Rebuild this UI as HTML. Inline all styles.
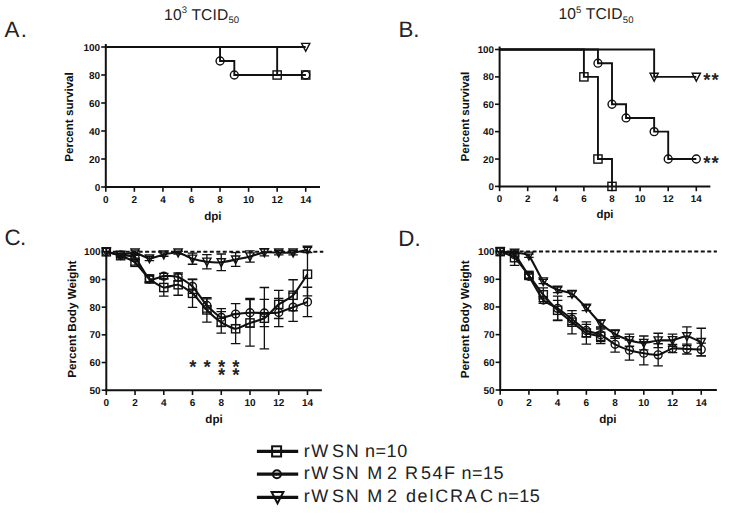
<!DOCTYPE html>
<html lang="en">
<head>
<meta charset="utf-8">
<title>Figure</title>
<style>
html,body{margin:0;padding:0;background:#fff;}
svg{display:block;}
text{font-family:"Liberation Sans", sans-serif;text-rendering:geometricPrecision;}
</style>
</head>
<body>
<svg width="729" height="514" viewBox="0 0 729 514">
<rect width="729" height="514" fill="#fff"/>
<text x="4.5" y="37" font-size="22.3" letter-spacing="1.3" fill="#222">A.</text>
<text x="398.4" y="36.7" font-size="22.3" letter-spacing="0" fill="#222">B.</text>
<text x="4.4" y="245.4" font-size="22.3" letter-spacing="-0.5" fill="#222">C.</text>
<text x="398.3" y="245.5" font-size="22.3" letter-spacing="0" fill="#222">D.</text>
<text x="201.7" y="19.7" font-size="15.6" letter-spacing="0.15" text-anchor="middle" fill="#222">10<tspan font-size="9.5" dy="-6.5">3</tspan><tspan dy="6.5"> TCID</tspan><tspan font-size="9.5" dy="3.2">50</tspan></text>
<text x="596.0" y="19.3" font-size="15.6" letter-spacing="0.15" text-anchor="middle" fill="#222">10<tspan font-size="9.5" dy="-6.5">5</tspan><tspan dy="6.5"> TCID</tspan><tspan font-size="9.5" dy="3.2">50</tspan></text>
<path d="M105.80 44.00V188.00" stroke="#111" stroke-width="2.0" fill="none"/>
<path d="M104.80 187.00H320.00" stroke="#111" stroke-width="2.0" fill="none"/>
<path d="M101.20 187.00H105.80" stroke="#111" stroke-width="1.6"/>
<text x="100.20" y="190.50" font-size="10.0" font-weight="bold" text-anchor="end" fill="#111">0</text>
<path d="M101.20 159.00H105.80" stroke="#111" stroke-width="1.6"/>
<text x="100.20" y="162.50" font-size="10.0" font-weight="bold" text-anchor="end" fill="#111">20</text>
<path d="M101.20 131.00H105.80" stroke="#111" stroke-width="1.6"/>
<text x="100.20" y="134.50" font-size="10.0" font-weight="bold" text-anchor="end" fill="#111">40</text>
<path d="M101.20 103.00H105.80" stroke="#111" stroke-width="1.6"/>
<text x="100.20" y="106.50" font-size="10.0" font-weight="bold" text-anchor="end" fill="#111">60</text>
<path d="M101.20 75.00H105.80" stroke="#111" stroke-width="1.6"/>
<text x="100.20" y="78.50" font-size="10.0" font-weight="bold" text-anchor="end" fill="#111">80</text>
<path d="M101.20 47.00H105.80" stroke="#111" stroke-width="1.6"/>
<text x="100.20" y="50.50" font-size="10.0" font-weight="bold" text-anchor="end" fill="#111">100</text>
<path d="M105.80 187.00V191.80" stroke="#111" stroke-width="1.6"/>
<text x="105.80" y="202.60" font-size="10.0" font-weight="bold" text-anchor="middle" fill="#111">0</text>
<path d="M134.36 187.00V191.80" stroke="#111" stroke-width="1.6"/>
<text x="134.36" y="202.60" font-size="10.0" font-weight="bold" text-anchor="middle" fill="#111">2</text>
<path d="M162.92 187.00V191.80" stroke="#111" stroke-width="1.6"/>
<text x="162.92" y="202.60" font-size="10.0" font-weight="bold" text-anchor="middle" fill="#111">4</text>
<path d="M191.48 187.00V191.80" stroke="#111" stroke-width="1.6"/>
<text x="191.48" y="202.60" font-size="10.0" font-weight="bold" text-anchor="middle" fill="#111">6</text>
<path d="M220.04 187.00V191.80" stroke="#111" stroke-width="1.6"/>
<text x="220.04" y="202.60" font-size="10.0" font-weight="bold" text-anchor="middle" fill="#111">8</text>
<path d="M248.60 187.00V191.80" stroke="#111" stroke-width="1.6"/>
<text x="248.60" y="202.60" font-size="10.0" font-weight="bold" text-anchor="middle" fill="#111">10</text>
<path d="M277.16 187.00V191.80" stroke="#111" stroke-width="1.6"/>
<text x="277.16" y="202.60" font-size="10.0" font-weight="bold" text-anchor="middle" fill="#111">12</text>
<path d="M305.72 187.00V191.80" stroke="#111" stroke-width="1.6"/>
<text x="305.72" y="202.60" font-size="10.0" font-weight="bold" text-anchor="middle" fill="#111">14</text>
<text x="212.90" y="219.80" font-size="11.6" font-weight="bold" text-anchor="middle" fill="#111">dpi</text>
<text transform="translate(73.00 117.00) rotate(-90)" font-size="11.6" font-weight="bold" text-anchor="middle" fill="#111">Percent survival</text>
<path d="M105.80 47.00L305.72 47.00" fill="none" stroke="#111" stroke-width="1.9" stroke-linejoin="miter"/>
<path d="M301.62 43.40H309.82L305.72 51.30Z" fill="none" stroke="#111" stroke-width="1.4" stroke-linejoin="miter"/>
<path d="M105.80 47.00L277.16 47.00L277.16 75.00L305.72 75.00" fill="none" stroke="#111" stroke-width="1.9" stroke-linejoin="miter"/>
<rect x="273.06" y="70.90" width="8.2" height="8.2" fill="none" stroke="#111" stroke-width="1.4"/>
<rect x="301.62" y="70.90" width="8.2" height="8.2" fill="none" stroke="#111" stroke-width="1.4"/>
<path d="M105.80 47.00L220.04 47.00L220.04 61.00L234.32 61.00L234.32 75.00L305.72 75.00" fill="none" stroke="#111" stroke-width="1.9" stroke-linejoin="miter"/>
<circle cx="220.04" cy="61.00" r="3.95" fill="none" stroke="#111" stroke-width="1.4"/>
<circle cx="234.32" cy="75.00" r="3.95" fill="none" stroke="#111" stroke-width="1.4"/>
<circle cx="305.72" cy="75.00" r="3.95" fill="none" stroke="#111" stroke-width="1.4"/>
<path d="M499.60 46.50V187.40" stroke="#111" stroke-width="2.0" fill="none"/>
<path d="M498.60 186.40H710.35" stroke="#111" stroke-width="2.0" fill="none"/>
<path d="M495.00 186.40H499.60" stroke="#111" stroke-width="1.6"/>
<text x="494.00" y="189.90" font-size="9.8" font-weight="bold" text-anchor="end" fill="#111">0</text>
<path d="M495.00 159.02H499.60" stroke="#111" stroke-width="1.6"/>
<text x="494.00" y="162.52" font-size="9.8" font-weight="bold" text-anchor="end" fill="#111">20</text>
<path d="M495.00 131.64H499.60" stroke="#111" stroke-width="1.6"/>
<text x="494.00" y="135.14" font-size="9.8" font-weight="bold" text-anchor="end" fill="#111">40</text>
<path d="M495.00 104.26H499.60" stroke="#111" stroke-width="1.6"/>
<text x="494.00" y="107.76" font-size="9.8" font-weight="bold" text-anchor="end" fill="#111">60</text>
<path d="M495.00 76.88H499.60" stroke="#111" stroke-width="1.6"/>
<text x="494.00" y="80.38" font-size="9.8" font-weight="bold" text-anchor="end" fill="#111">80</text>
<path d="M495.00 49.50H499.60" stroke="#111" stroke-width="1.6"/>
<text x="494.00" y="53.00" font-size="9.8" font-weight="bold" text-anchor="end" fill="#111">100</text>
<path d="M499.60 186.40V191.20" stroke="#111" stroke-width="1.6"/>
<text x="499.60" y="202.00" font-size="9.8" font-weight="bold" text-anchor="middle" fill="#111">0</text>
<path d="M527.70 186.40V191.20" stroke="#111" stroke-width="1.6"/>
<text x="527.70" y="202.00" font-size="9.8" font-weight="bold" text-anchor="middle" fill="#111">2</text>
<path d="M555.80 186.40V191.20" stroke="#111" stroke-width="1.6"/>
<text x="555.80" y="202.00" font-size="9.8" font-weight="bold" text-anchor="middle" fill="#111">4</text>
<path d="M583.90 186.40V191.20" stroke="#111" stroke-width="1.6"/>
<text x="583.90" y="202.00" font-size="9.8" font-weight="bold" text-anchor="middle" fill="#111">6</text>
<path d="M612.00 186.40V191.20" stroke="#111" stroke-width="1.6"/>
<text x="612.00" y="202.00" font-size="9.8" font-weight="bold" text-anchor="middle" fill="#111">8</text>
<path d="M640.10 186.40V191.20" stroke="#111" stroke-width="1.6"/>
<text x="640.10" y="202.00" font-size="9.8" font-weight="bold" text-anchor="middle" fill="#111">10</text>
<path d="M668.20 186.40V191.20" stroke="#111" stroke-width="1.6"/>
<text x="668.20" y="202.00" font-size="9.8" font-weight="bold" text-anchor="middle" fill="#111">12</text>
<path d="M696.30 186.40V191.20" stroke="#111" stroke-width="1.6"/>
<text x="696.30" y="202.00" font-size="9.8" font-weight="bold" text-anchor="middle" fill="#111">14</text>
<text x="604.98" y="218.30" font-size="11.4" font-weight="bold" text-anchor="middle" fill="#111">dpi</text>
<text transform="translate(468.70 116.65) rotate(-90)" font-size="11.6" font-weight="bold" text-anchor="middle" fill="#111">Percent survival</text>
<path d="M499.60 49.50L654.15 49.50L654.15 76.88L696.30 76.88" fill="none" stroke="#111" stroke-width="1.9" stroke-linejoin="miter"/>
<path d="M650.05 73.28H658.25L654.15 81.18Z" fill="none" stroke="#111" stroke-width="1.4" stroke-linejoin="miter"/>
<path d="M692.20 73.28H700.40L696.30 81.18Z" fill="none" stroke="#111" stroke-width="1.4" stroke-linejoin="miter"/>
<path d="M499.60 49.50L583.90 49.50L583.90 76.88L597.95 76.88L597.95 159.02L612.00 159.02L612.00 186.40" fill="none" stroke="#111" stroke-width="1.9" stroke-linejoin="miter"/>
<rect x="579.80" y="72.78" width="8.2" height="8.2" fill="none" stroke="#111" stroke-width="1.4"/>
<rect x="593.85" y="154.92" width="8.2" height="8.2" fill="none" stroke="#111" stroke-width="1.4"/>
<rect x="607.90" y="182.30" width="8.2" height="8.2" fill="none" stroke="#111" stroke-width="1.4"/>
<path d="M499.60 49.50L597.95 49.50L597.95 63.19L612.00 63.19L612.00 104.26L626.05 104.26L626.05 117.95L654.15 117.95L654.15 131.64L668.20 131.64L668.20 159.02L696.30 159.02" fill="none" stroke="#111" stroke-width="1.9" stroke-linejoin="miter"/>
<circle cx="597.95" cy="63.19" r="3.95" fill="none" stroke="#111" stroke-width="1.4"/>
<circle cx="612.00" cy="104.26" r="3.95" fill="none" stroke="#111" stroke-width="1.4"/>
<circle cx="626.05" cy="117.95" r="3.95" fill="none" stroke="#111" stroke-width="1.4"/>
<circle cx="654.15" cy="131.64" r="3.95" fill="none" stroke="#111" stroke-width="1.4"/>
<circle cx="668.20" cy="159.02" r="3.95" fill="none" stroke="#111" stroke-width="1.4"/>
<circle cx="696.30" cy="159.02" r="3.95" fill="none" stroke="#111" stroke-width="1.4"/>
<text x="711.45" y="86.48" font-size="18.5" font-weight="bold" letter-spacing="0.9" text-anchor="middle" fill="#222">**</text>
<text x="711.45" y="168.62" font-size="18.5" font-weight="bold" letter-spacing="0.9" text-anchor="middle" fill="#222">**</text>
<path d="M106.30 248.80V391.20" stroke="#111" stroke-width="2.0" fill="none"/>
<path d="M105.30 390.20H321.85" stroke="#111" stroke-width="2.0" fill="none"/>
<path d="M101.70 390.20H106.30" stroke="#111" stroke-width="1.6"/>
<text x="100.70" y="393.70" font-size="10.0" font-weight="bold" text-anchor="end" fill="#111">50</text>
<path d="M101.70 362.52H106.30" stroke="#111" stroke-width="1.6"/>
<text x="100.70" y="366.02" font-size="10.0" font-weight="bold" text-anchor="end" fill="#111">60</text>
<path d="M101.70 334.84H106.30" stroke="#111" stroke-width="1.6"/>
<text x="100.70" y="338.34" font-size="10.0" font-weight="bold" text-anchor="end" fill="#111">70</text>
<path d="M101.70 307.16H106.30" stroke="#111" stroke-width="1.6"/>
<text x="100.70" y="310.66" font-size="10.0" font-weight="bold" text-anchor="end" fill="#111">80</text>
<path d="M101.70 279.48H106.30" stroke="#111" stroke-width="1.6"/>
<text x="100.70" y="282.98" font-size="10.0" font-weight="bold" text-anchor="end" fill="#111">90</text>
<path d="M101.70 251.80H106.30" stroke="#111" stroke-width="1.6"/>
<text x="100.70" y="255.30" font-size="10.0" font-weight="bold" text-anchor="end" fill="#111">100</text>
<path d="M106.30 390.20V395.00" stroke="#111" stroke-width="1.6"/>
<text x="106.30" y="405.80" font-size="10.0" font-weight="bold" text-anchor="middle" fill="#111">0</text>
<path d="M135.04 390.20V395.00" stroke="#111" stroke-width="1.6"/>
<text x="135.04" y="405.80" font-size="10.0" font-weight="bold" text-anchor="middle" fill="#111">2</text>
<path d="M163.78 390.20V395.00" stroke="#111" stroke-width="1.6"/>
<text x="163.78" y="405.80" font-size="10.0" font-weight="bold" text-anchor="middle" fill="#111">4</text>
<path d="M192.52 390.20V395.00" stroke="#111" stroke-width="1.6"/>
<text x="192.52" y="405.80" font-size="10.0" font-weight="bold" text-anchor="middle" fill="#111">6</text>
<path d="M221.26 390.20V395.00" stroke="#111" stroke-width="1.6"/>
<text x="221.26" y="405.80" font-size="10.0" font-weight="bold" text-anchor="middle" fill="#111">8</text>
<path d="M250.00 390.20V395.00" stroke="#111" stroke-width="1.6"/>
<text x="250.00" y="405.80" font-size="10.0" font-weight="bold" text-anchor="middle" fill="#111">10</text>
<path d="M278.74 390.20V395.00" stroke="#111" stroke-width="1.6"/>
<text x="278.74" y="405.80" font-size="10.0" font-weight="bold" text-anchor="middle" fill="#111">12</text>
<path d="M307.48 390.20V395.00" stroke="#111" stroke-width="1.6"/>
<text x="307.48" y="405.80" font-size="10.0" font-weight="bold" text-anchor="middle" fill="#111">14</text>
<text x="214.07" y="423.00" font-size="11.6" font-weight="bold" text-anchor="middle" fill="#111">dpi</text>
<text transform="translate(76.00 319.20) rotate(-90)" font-size="11.7" font-weight="bold" text-anchor="middle" fill="#111">Percent Body Weight</text>
<path d="M106.30 251.80H323.29" stroke="#111" stroke-width="2" stroke-dasharray="4 2.47" fill="none"/>
<path d="M120.67 253.46V256.23M115.92 253.46h9.5M115.92 256.23h9.5" stroke="#111" stroke-width="1.3" fill="none"/>
<path d="M135.04 250.97V254.29M130.29 250.97h9.5M130.29 254.29h9.5" stroke="#111" stroke-width="1.3" fill="none"/>
<path d="M149.41 256.23V260.66M144.66 256.23h9.5M144.66 260.66h9.5" stroke="#111" stroke-width="1.3" fill="none"/>
<path d="M163.78 252.91V256.23M159.03 252.91h9.5M159.03 256.23h9.5" stroke="#111" stroke-width="1.3" fill="none"/>
<path d="M178.15 251.25V254.01M173.40 251.25h9.5M173.40 254.01h9.5" stroke="#111" stroke-width="1.3" fill="none"/>
<path d="M192.52 253.18V264.26M187.77 253.18h9.5M187.77 264.26h9.5" stroke="#111" stroke-width="1.3" fill="none"/>
<path d="M206.89 254.57V268.96M202.14 254.57h9.5M202.14 268.96h9.5" stroke="#111" stroke-width="1.3" fill="none"/>
<path d="M221.26 254.01V270.62M216.51 254.01h9.5M216.51 270.62h9.5" stroke="#111" stroke-width="1.3" fill="none"/>
<path d="M235.63 252.63V266.47M230.88 252.63h9.5M230.88 266.47h9.5" stroke="#111" stroke-width="1.3" fill="none"/>
<path d="M250.00 250.97V262.04M245.25 250.97h9.5M245.25 262.04h9.5" stroke="#111" stroke-width="1.3" fill="none"/>
<path d="M264.37 248.76V255.95M259.62 248.76h9.5M259.62 255.95h9.5" stroke="#111" stroke-width="1.3" fill="none"/>
<path d="M278.74 250.42V254.84M273.99 250.42h9.5M273.99 254.84h9.5" stroke="#111" stroke-width="1.3" fill="none"/>
<path d="M293.11 250.42V254.84M288.36 250.42h9.5M288.36 254.84h9.5" stroke="#111" stroke-width="1.3" fill="none"/>
<path d="M307.48 247.37V252.35M302.73 247.37h9.5M302.73 252.35h9.5" stroke="#111" stroke-width="1.3" fill="none"/>
<path d="M106.30 251.80C107.64 252.08 117.99 254.77 120.67 254.84C123.35 254.92 132.36 252.29 135.04 252.63C137.72 252.97 146.73 258.26 149.41 258.44C152.09 258.62 161.10 255.11 163.78 254.57C166.46 254.03 175.47 252.24 178.15 252.63C180.83 253.02 189.84 257.87 192.52 258.72C195.20 259.57 204.21 261.43 206.89 261.76C209.57 262.10 218.58 262.53 221.26 262.32C223.94 262.11 232.95 260.09 235.63 259.55C238.31 259.01 247.32 257.18 250.00 256.51C252.68 255.83 261.69 252.72 264.37 252.35C267.05 251.99 276.06 252.60 278.74 252.63C281.42 252.66 290.43 252.89 293.11 252.63C295.79 252.37 306.14 250.12 307.48 249.86" fill="none" stroke="#111" stroke-width="2.1"/>
<path d="M102.20 248.20H110.40L106.30 256.10Z" fill="none" stroke="#111" stroke-width="1.4" stroke-linejoin="miter"/>
<path d="M116.57 251.24H124.77L120.67 259.14Z" fill="none" stroke="#111" stroke-width="1.4" stroke-linejoin="miter"/>
<path d="M130.94 249.03H139.14L135.04 256.93Z" fill="none" stroke="#111" stroke-width="1.4" stroke-linejoin="miter"/>
<path d="M145.31 254.84H153.51L149.41 262.74Z" fill="none" stroke="#111" stroke-width="1.4" stroke-linejoin="miter"/>
<path d="M159.68 250.97H167.88L163.78 258.87Z" fill="none" stroke="#111" stroke-width="1.4" stroke-linejoin="miter"/>
<path d="M174.05 249.03H182.25L178.15 256.93Z" fill="none" stroke="#111" stroke-width="1.4" stroke-linejoin="miter"/>
<path d="M188.42 255.12H196.62L192.52 263.02Z" fill="none" stroke="#111" stroke-width="1.4" stroke-linejoin="miter"/>
<path d="M202.79 258.16H210.99L206.89 266.06Z" fill="none" stroke="#111" stroke-width="1.4" stroke-linejoin="miter"/>
<path d="M217.16 258.72H225.36L221.26 266.62Z" fill="none" stroke="#111" stroke-width="1.4" stroke-linejoin="miter"/>
<path d="M231.53 255.95H239.73L235.63 263.85Z" fill="none" stroke="#111" stroke-width="1.4" stroke-linejoin="miter"/>
<path d="M245.90 252.91H254.10L250.00 260.81Z" fill="none" stroke="#111" stroke-width="1.4" stroke-linejoin="miter"/>
<path d="M260.27 248.75H268.47L264.37 256.65Z" fill="none" stroke="#111" stroke-width="1.4" stroke-linejoin="miter"/>
<path d="M274.64 249.03H282.84L278.74 256.93Z" fill="none" stroke="#111" stroke-width="1.4" stroke-linejoin="miter"/>
<path d="M289.01 249.03H297.21L293.11 256.93Z" fill="none" stroke="#111" stroke-width="1.4" stroke-linejoin="miter"/>
<path d="M303.38 246.26H311.58L307.48 254.16Z" fill="none" stroke="#111" stroke-width="1.4" stroke-linejoin="miter"/>
<path d="M120.67 254.01V257.34M115.92 254.01h9.5M115.92 257.34h9.5" stroke="#111" stroke-width="1.3" fill="none"/>
<path d="M135.04 259.55V265.09M130.29 259.55h9.5M130.29 265.09h9.5" stroke="#111" stroke-width="1.3" fill="none"/>
<path d="M149.41 275.33V282.52M144.66 275.33h9.5M144.66 282.52h9.5" stroke="#111" stroke-width="1.3" fill="none"/>
<path d="M163.78 278.93V296.09M159.03 278.93h9.5M159.03 296.09h9.5" stroke="#111" stroke-width="1.3" fill="none"/>
<path d="M178.15 274.22V295.26M173.40 274.22h9.5M173.40 295.26h9.5" stroke="#111" stroke-width="1.3" fill="none"/>
<path d="M192.52 279.20V307.44M187.77 279.20h9.5M187.77 307.44h9.5" stroke="#111" stroke-width="1.3" fill="none"/>
<path d="M206.89 297.75V322.11M202.14 297.75h9.5M202.14 322.11h9.5" stroke="#111" stroke-width="1.3" fill="none"/>
<path d="M221.26 311.59V333.18M216.51 311.59h9.5M216.51 333.18h9.5" stroke="#111" stroke-width="1.3" fill="none"/>
<path d="M235.63 313.80V343.70M230.88 313.80h9.5M230.88 343.70h9.5" stroke="#111" stroke-width="1.3" fill="none"/>
<path d="M250.00 299.69V346.19M245.25 299.69h9.5M245.25 346.19h9.5" stroke="#111" stroke-width="1.3" fill="none"/>
<path d="M264.37 287.51V348.96M259.62 287.51h9.5M259.62 348.96h9.5" stroke="#111" stroke-width="1.3" fill="none"/>
<path d="M278.74 290.28V318.51M273.99 290.28h9.5M273.99 318.51h9.5" stroke="#111" stroke-width="1.3" fill="none"/>
<path d="M293.11 279.76V310.76M288.36 279.76h9.5M288.36 310.76h9.5" stroke="#111" stroke-width="1.3" fill="none"/>
<path d="M307.48 252.63V295.81M302.73 252.63h9.5M302.73 295.81h9.5" stroke="#111" stroke-width="1.3" fill="none"/>
<path d="M106.30 251.80C107.64 252.16 117.99 254.69 120.67 255.68C123.35 256.66 132.36 260.15 135.04 262.32C137.72 264.49 146.73 276.58 149.41 278.93C152.09 281.28 161.10 286.96 163.78 287.51C166.46 288.05 175.47 284.20 178.15 284.74C180.83 285.28 189.84 290.97 192.52 293.32C195.20 295.67 204.21 307.22 206.89 309.93C209.57 312.64 218.58 320.63 221.26 322.38C223.94 324.14 232.95 328.70 235.63 328.75C238.31 328.80 247.32 323.92 250.00 322.94C252.68 321.96 261.69 319.96 264.37 318.23C267.05 316.50 276.06 306.54 278.74 304.39C281.42 302.25 290.43 298.07 293.11 295.26C295.79 292.44 306.14 276.18 307.48 274.22" fill="none" stroke="#111" stroke-width="2.1"/>
<rect x="102.20" y="247.70" width="8.2" height="8.2" fill="none" stroke="#111" stroke-width="1.4"/>
<rect x="116.57" y="251.58" width="8.2" height="8.2" fill="none" stroke="#111" stroke-width="1.4"/>
<rect x="130.94" y="258.22" width="8.2" height="8.2" fill="none" stroke="#111" stroke-width="1.4"/>
<rect x="145.31" y="274.83" width="8.2" height="8.2" fill="none" stroke="#111" stroke-width="1.4"/>
<rect x="159.68" y="283.41" width="8.2" height="8.2" fill="none" stroke="#111" stroke-width="1.4"/>
<rect x="174.05" y="280.64" width="8.2" height="8.2" fill="none" stroke="#111" stroke-width="1.4"/>
<rect x="188.42" y="289.22" width="8.2" height="8.2" fill="none" stroke="#111" stroke-width="1.4"/>
<rect x="202.79" y="305.83" width="8.2" height="8.2" fill="none" stroke="#111" stroke-width="1.4"/>
<rect x="217.16" y="318.28" width="8.2" height="8.2" fill="none" stroke="#111" stroke-width="1.4"/>
<rect x="231.53" y="324.65" width="8.2" height="8.2" fill="none" stroke="#111" stroke-width="1.4"/>
<rect x="245.90" y="318.84" width="8.2" height="8.2" fill="none" stroke="#111" stroke-width="1.4"/>
<rect x="260.27" y="314.13" width="8.2" height="8.2" fill="none" stroke="#111" stroke-width="1.4"/>
<rect x="274.64" y="300.29" width="8.2" height="8.2" fill="none" stroke="#111" stroke-width="1.4"/>
<rect x="289.01" y="291.16" width="8.2" height="8.2" fill="none" stroke="#111" stroke-width="1.4"/>
<rect x="303.38" y="270.12" width="8.2" height="8.2" fill="none" stroke="#111" stroke-width="1.4"/>
<path d="M120.67 253.74V256.51M115.92 253.74h9.5M115.92 256.51h9.5" stroke="#111" stroke-width="1.3" fill="none"/>
<path d="M135.04 255.40V259.83M130.29 255.40h9.5M130.29 259.83h9.5" stroke="#111" stroke-width="1.3" fill="none"/>
<path d="M149.41 276.16V281.69M144.66 276.16h9.5M144.66 281.69h9.5" stroke="#111" stroke-width="1.3" fill="none"/>
<path d="M163.78 273.39V278.93M159.03 273.39h9.5M159.03 278.93h9.5" stroke="#111" stroke-width="1.3" fill="none"/>
<path d="M178.15 272.84V281.14M173.40 272.84h9.5M173.40 281.14h9.5" stroke="#111" stroke-width="1.3" fill="none"/>
<path d="M192.52 279.48V293.32M187.77 279.48h9.5M187.77 293.32h9.5" stroke="#111" stroke-width="1.3" fill="none"/>
<path d="M206.89 298.86V312.14M202.14 298.86h9.5M202.14 312.14h9.5" stroke="#111" stroke-width="1.3" fill="none"/>
<path d="M221.26 308.54V326.26M216.51 308.54h9.5M216.51 326.26h9.5" stroke="#111" stroke-width="1.3" fill="none"/>
<path d="M235.63 303.56V324.60M230.88 303.56h9.5M230.88 324.60h9.5" stroke="#111" stroke-width="1.3" fill="none"/>
<path d="M250.00 298.30V327.09M245.25 298.30h9.5M245.25 327.09h9.5" stroke="#111" stroke-width="1.3" fill="none"/>
<path d="M264.37 299.41V326.54M259.62 299.41h9.5M259.62 326.54h9.5" stroke="#111" stroke-width="1.3" fill="none"/>
<path d="M278.74 298.30V326.54M273.99 298.30h9.5M273.99 326.54h9.5" stroke="#111" stroke-width="1.3" fill="none"/>
<path d="M293.11 293.04V321.28M288.36 293.04h9.5M288.36 321.28h9.5" stroke="#111" stroke-width="1.3" fill="none"/>
<path d="M307.48 287.23V316.57M302.73 287.23h9.5M302.73 316.57h9.5" stroke="#111" stroke-width="1.3" fill="none"/>
<path d="M106.30 251.80C107.64 252.11 117.99 254.58 120.67 255.12C123.35 255.66 132.36 255.39 135.04 257.61C137.72 259.83 146.73 277.20 149.41 278.93C152.09 280.66 161.10 276.34 163.78 276.16C166.46 275.98 175.47 276.03 178.15 276.99C180.83 277.94 189.84 283.74 192.52 286.40C195.20 289.06 204.21 302.61 206.89 305.50C209.57 308.39 218.58 316.60 221.26 317.40C223.94 318.20 232.95 314.52 235.63 314.08C238.31 313.64 247.32 312.80 250.00 312.70C252.68 312.59 261.69 313.00 264.37 312.97C267.05 312.95 276.06 312.96 278.74 312.42C281.42 311.88 290.43 308.14 293.11 307.16C295.79 306.18 306.14 302.39 307.48 301.90" fill="none" stroke="#111" stroke-width="2.1"/>
<circle cx="106.30" cy="251.80" r="3.95" fill="none" stroke="#111" stroke-width="1.4"/>
<circle cx="120.67" cy="255.12" r="3.95" fill="none" stroke="#111" stroke-width="1.4"/>
<circle cx="135.04" cy="257.61" r="3.95" fill="none" stroke="#111" stroke-width="1.4"/>
<circle cx="149.41" cy="278.93" r="3.95" fill="none" stroke="#111" stroke-width="1.4"/>
<circle cx="163.78" cy="276.16" r="3.95" fill="none" stroke="#111" stroke-width="1.4"/>
<circle cx="178.15" cy="276.99" r="3.95" fill="none" stroke="#111" stroke-width="1.4"/>
<circle cx="192.52" cy="286.40" r="3.95" fill="none" stroke="#111" stroke-width="1.4"/>
<circle cx="206.89" cy="305.50" r="3.95" fill="none" stroke="#111" stroke-width="1.4"/>
<circle cx="221.26" cy="317.40" r="3.95" fill="none" stroke="#111" stroke-width="1.4"/>
<circle cx="235.63" cy="314.08" r="3.95" fill="none" stroke="#111" stroke-width="1.4"/>
<circle cx="250.00" cy="312.70" r="3.95" fill="none" stroke="#111" stroke-width="1.4"/>
<circle cx="264.37" cy="312.97" r="3.95" fill="none" stroke="#111" stroke-width="1.4"/>
<circle cx="278.74" cy="312.42" r="3.95" fill="none" stroke="#111" stroke-width="1.4"/>
<circle cx="293.11" cy="307.16" r="3.95" fill="none" stroke="#111" stroke-width="1.4"/>
<circle cx="307.48" cy="301.90" r="3.95" fill="none" stroke="#111" stroke-width="1.4"/>
<text x="192.82" y="373.00" font-size="18.5" font-weight="bold" text-anchor="middle" fill="#222">*</text>
<text x="207.19" y="373.00" font-size="18.5" font-weight="bold" text-anchor="middle" fill="#222">*</text>
<text x="221.56" y="373.00" font-size="18.5" font-weight="bold" text-anchor="middle" fill="#222">*</text>
<text x="235.93" y="373.00" font-size="18.5" font-weight="bold" text-anchor="middle" fill="#222">*</text>
<text x="221.56" y="380.80" font-size="18.5" font-weight="bold" text-anchor="middle" fill="#222">*</text>
<text x="235.93" y="380.80" font-size="18.5" font-weight="bold" text-anchor="middle" fill="#222">*</text>
<path d="M500.20 248.60V391.00" stroke="#111" stroke-width="2.0" fill="none"/>
<path d="M499.20 390.00H716.89" stroke="#111" stroke-width="2.0" fill="none"/>
<path d="M495.60 390.00H500.20" stroke="#111" stroke-width="1.6"/>
<text x="494.60" y="393.50" font-size="10.0" font-weight="bold" text-anchor="end" fill="#111">50</text>
<path d="M495.60 362.32H500.20" stroke="#111" stroke-width="1.6"/>
<text x="494.60" y="365.82" font-size="10.0" font-weight="bold" text-anchor="end" fill="#111">60</text>
<path d="M495.60 334.64H500.20" stroke="#111" stroke-width="1.6"/>
<text x="494.60" y="338.14" font-size="10.0" font-weight="bold" text-anchor="end" fill="#111">70</text>
<path d="M495.60 306.96H500.20" stroke="#111" stroke-width="1.6"/>
<text x="494.60" y="310.46" font-size="10.0" font-weight="bold" text-anchor="end" fill="#111">80</text>
<path d="M495.60 279.28H500.20" stroke="#111" stroke-width="1.6"/>
<text x="494.60" y="282.78" font-size="10.0" font-weight="bold" text-anchor="end" fill="#111">90</text>
<path d="M495.60 251.60H500.20" stroke="#111" stroke-width="1.6"/>
<text x="494.60" y="255.10" font-size="10.0" font-weight="bold" text-anchor="end" fill="#111">100</text>
<path d="M500.20 390.00V394.80" stroke="#111" stroke-width="1.6"/>
<text x="500.20" y="405.60" font-size="10.0" font-weight="bold" text-anchor="middle" fill="#111">0</text>
<path d="M528.92 390.00V394.80" stroke="#111" stroke-width="1.6"/>
<text x="528.92" y="405.60" font-size="10.0" font-weight="bold" text-anchor="middle" fill="#111">2</text>
<path d="M557.64 390.00V394.80" stroke="#111" stroke-width="1.6"/>
<text x="557.64" y="405.60" font-size="10.0" font-weight="bold" text-anchor="middle" fill="#111">4</text>
<path d="M586.36 390.00V394.80" stroke="#111" stroke-width="1.6"/>
<text x="586.36" y="405.60" font-size="10.0" font-weight="bold" text-anchor="middle" fill="#111">6</text>
<path d="M615.08 390.00V394.80" stroke="#111" stroke-width="1.6"/>
<text x="615.08" y="405.60" font-size="10.0" font-weight="bold" text-anchor="middle" fill="#111">8</text>
<path d="M643.80 390.00V394.80" stroke="#111" stroke-width="1.6"/>
<text x="643.80" y="405.60" font-size="10.0" font-weight="bold" text-anchor="middle" fill="#111">10</text>
<path d="M672.52 390.00V394.80" stroke="#111" stroke-width="1.6"/>
<text x="672.52" y="405.60" font-size="10.0" font-weight="bold" text-anchor="middle" fill="#111">12</text>
<path d="M701.24 390.00V394.80" stroke="#111" stroke-width="1.6"/>
<text x="701.24" y="405.60" font-size="10.0" font-weight="bold" text-anchor="middle" fill="#111">14</text>
<text x="607.90" y="422.80" font-size="11.6" font-weight="bold" text-anchor="middle" fill="#111">dpi</text>
<text transform="translate(468.80 319.30) rotate(-90)" font-size="11.75" font-weight="bold" text-anchor="middle" fill="#111">Percent Body Weight</text>
<path d="M500.20 251.60H716.89" stroke="#111" stroke-width="2" stroke-dasharray="4 2.47" fill="none"/>
<path d="M514.56 251.60V253.81M509.81 251.60h9.5M509.81 253.81h9.5" stroke="#111" stroke-width="1.3" fill="none"/>
<path d="M528.92 254.09V257.41M524.17 254.09h9.5M524.17 257.41h9.5" stroke="#111" stroke-width="1.3" fill="none"/>
<path d="M543.28 279.28V283.71M538.53 279.28h9.5M538.53 283.71h9.5" stroke="#111" stroke-width="1.3" fill="none"/>
<path d="M557.64 287.03V292.57M552.89 287.03h9.5M552.89 292.57h9.5" stroke="#111" stroke-width="1.3" fill="none"/>
<path d="M572.00 291.18V296.72M567.25 291.18h9.5M567.25 296.72h9.5" stroke="#111" stroke-width="1.3" fill="none"/>
<path d="M586.36 305.02V310.56M581.61 305.02h9.5M581.61 310.56h9.5" stroke="#111" stroke-width="1.3" fill="none"/>
<path d="M600.72 320.25V326.89M595.97 320.25h9.5M595.97 326.89h9.5" stroke="#111" stroke-width="1.3" fill="none"/>
<path d="M615.08 329.93V338.24M610.33 329.93h9.5M610.33 338.24h9.5" stroke="#111" stroke-width="1.3" fill="none"/>
<path d="M629.44 334.09V346.27M624.69 334.09h9.5M624.69 346.27h9.5" stroke="#111" stroke-width="1.3" fill="none"/>
<path d="M643.80 336.02V349.86M639.05 336.02h9.5M639.05 349.86h9.5" stroke="#111" stroke-width="1.3" fill="none"/>
<path d="M658.16 333.26V347.65M653.41 333.26h9.5M653.41 347.65h9.5" stroke="#111" stroke-width="1.3" fill="none"/>
<path d="M672.52 334.09V346.27M667.77 334.09h9.5M667.77 346.27h9.5" stroke="#111" stroke-width="1.3" fill="none"/>
<path d="M686.88 326.89V345.71M682.13 326.89h9.5M682.13 345.71h9.5" stroke="#111" stroke-width="1.3" fill="none"/>
<path d="M701.24 328.27V355.95M696.49 328.27h9.5M696.49 355.95h9.5" stroke="#111" stroke-width="1.3" fill="none"/>
<path d="M500.20 251.60C501.54 251.70 511.88 252.32 514.56 252.71C517.24 253.09 526.24 253.07 528.92 255.75C531.60 258.44 540.60 278.32 543.28 281.49C545.96 284.67 554.96 288.64 557.64 289.80C560.32 290.96 569.32 292.27 572.00 293.95C574.68 295.63 583.68 305.03 586.36 307.79C589.04 310.55 598.04 321.11 600.72 323.57C603.40 326.02 612.40 332.54 615.08 334.09C617.76 335.64 626.76 339.35 629.44 340.18C632.12 341.00 641.12 342.92 643.80 342.94C646.48 342.97 655.48 340.71 658.16 340.45C660.84 340.19 669.84 340.56 672.52 340.18C675.20 339.79 684.20 336.12 686.88 336.30C689.56 336.48 699.90 341.57 701.24 342.11" fill="none" stroke="#111" stroke-width="2.1"/>
<path d="M496.10 248.00H504.30L500.20 255.90Z" fill="none" stroke="#111" stroke-width="1.4" stroke-linejoin="miter"/>
<path d="M510.46 249.11H518.66L514.56 257.01Z" fill="none" stroke="#111" stroke-width="1.4" stroke-linejoin="miter"/>
<path d="M524.82 252.15H533.02L528.92 260.05Z" fill="none" stroke="#111" stroke-width="1.4" stroke-linejoin="miter"/>
<path d="M539.18 277.89H547.38L543.28 285.79Z" fill="none" stroke="#111" stroke-width="1.4" stroke-linejoin="miter"/>
<path d="M553.54 286.20H561.74L557.64 294.10Z" fill="none" stroke="#111" stroke-width="1.4" stroke-linejoin="miter"/>
<path d="M567.90 290.35H576.10L572.00 298.25Z" fill="none" stroke="#111" stroke-width="1.4" stroke-linejoin="miter"/>
<path d="M582.26 304.19H590.46L586.36 312.09Z" fill="none" stroke="#111" stroke-width="1.4" stroke-linejoin="miter"/>
<path d="M596.62 319.97H604.82L600.72 327.87Z" fill="none" stroke="#111" stroke-width="1.4" stroke-linejoin="miter"/>
<path d="M610.98 330.49H619.18L615.08 338.39Z" fill="none" stroke="#111" stroke-width="1.4" stroke-linejoin="miter"/>
<path d="M625.34 336.58H633.54L629.44 344.48Z" fill="none" stroke="#111" stroke-width="1.4" stroke-linejoin="miter"/>
<path d="M639.70 339.34H647.90L643.80 347.24Z" fill="none" stroke="#111" stroke-width="1.4" stroke-linejoin="miter"/>
<path d="M654.06 336.85H662.26L658.16 344.75Z" fill="none" stroke="#111" stroke-width="1.4" stroke-linejoin="miter"/>
<path d="M668.42 336.58H676.62L672.52 344.48Z" fill="none" stroke="#111" stroke-width="1.4" stroke-linejoin="miter"/>
<path d="M682.78 332.70H690.98L686.88 340.60Z" fill="none" stroke="#111" stroke-width="1.4" stroke-linejoin="miter"/>
<path d="M697.14 338.51H705.34L701.24 346.41Z" fill="none" stroke="#111" stroke-width="1.4" stroke-linejoin="miter"/>
<path d="M514.56 249.94V265.44M509.81 249.94h9.5M509.81 265.44h9.5" stroke="#111" stroke-width="1.3" fill="none"/>
<path d="M528.92 272.64V278.17M524.17 272.64h9.5M524.17 278.17h9.5" stroke="#111" stroke-width="1.3" fill="none"/>
<path d="M543.28 287.86V301.70M538.53 287.86h9.5M538.53 301.70h9.5" stroke="#111" stroke-width="1.3" fill="none"/>
<path d="M557.64 300.32V320.25M552.89 300.32h9.5M552.89 320.25h9.5" stroke="#111" stroke-width="1.3" fill="none"/>
<path d="M572.00 310.56V333.81M567.25 310.56h9.5M567.25 333.81h9.5" stroke="#111" stroke-width="1.3" fill="none"/>
<path d="M586.36 321.91V344.05M581.61 321.91h9.5M581.61 344.05h9.5" stroke="#111" stroke-width="1.3" fill="none"/>
<path d="M600.72 329.10V343.50M595.97 329.10h9.5M595.97 343.50h9.5" stroke="#111" stroke-width="1.3" fill="none"/>
<path d="M500.20 251.60C501.54 252.17 511.88 255.47 514.56 257.69C517.24 259.91 526.24 271.94 528.92 275.40C531.60 278.87 540.60 291.53 543.28 294.78C545.96 298.04 554.96 307.72 557.64 310.28C560.32 312.84 569.32 320.07 572.00 322.18C574.68 324.30 583.68 331.66 586.36 332.98C589.04 334.30 599.38 335.99 600.72 336.30" fill="none" stroke="#111" stroke-width="2.1"/>
<rect x="496.10" y="247.50" width="8.2" height="8.2" fill="none" stroke="#111" stroke-width="1.4"/>
<rect x="510.46" y="253.59" width="8.2" height="8.2" fill="none" stroke="#111" stroke-width="1.4"/>
<rect x="524.82" y="271.30" width="8.2" height="8.2" fill="none" stroke="#111" stroke-width="1.4"/>
<rect x="539.18" y="290.68" width="8.2" height="8.2" fill="none" stroke="#111" stroke-width="1.4"/>
<rect x="553.54" y="306.18" width="8.2" height="8.2" fill="none" stroke="#111" stroke-width="1.4"/>
<rect x="567.90" y="318.08" width="8.2" height="8.2" fill="none" stroke="#111" stroke-width="1.4"/>
<rect x="582.26" y="328.88" width="8.2" height="8.2" fill="none" stroke="#111" stroke-width="1.4"/>
<rect x="596.62" y="332.20" width="8.2" height="8.2" fill="none" stroke="#111" stroke-width="1.4"/>
<path d="M514.56 253.26V256.03M509.81 253.26h9.5M509.81 256.03h9.5" stroke="#111" stroke-width="1.3" fill="none"/>
<path d="M528.92 274.02V278.45M524.17 274.02h9.5M524.17 278.45h9.5" stroke="#111" stroke-width="1.3" fill="none"/>
<path d="M543.28 296.72V303.36M538.53 296.72h9.5M538.53 303.36h9.5" stroke="#111" stroke-width="1.3" fill="none"/>
<path d="M557.64 296.16V320.52M552.89 296.16h9.5M552.89 320.52h9.5" stroke="#111" stroke-width="1.3" fill="none"/>
<path d="M572.00 313.60V324.68M567.25 313.60h9.5M567.25 324.68h9.5" stroke="#111" stroke-width="1.3" fill="none"/>
<path d="M586.36 324.40V336.58M581.61 324.40h9.5M581.61 336.58h9.5" stroke="#111" stroke-width="1.3" fill="none"/>
<path d="M600.72 328.00V341.28M595.97 328.00h9.5M595.97 341.28h9.5" stroke="#111" stroke-width="1.3" fill="none"/>
<path d="M615.08 336.58V352.08M610.33 336.58h9.5M610.33 352.08h9.5" stroke="#111" stroke-width="1.3" fill="none"/>
<path d="M629.44 340.18V360.11M624.69 340.18h9.5M624.69 360.11h9.5" stroke="#111" stroke-width="1.3" fill="none"/>
<path d="M643.80 341.56V364.81M639.05 341.56h9.5M639.05 364.81h9.5" stroke="#111" stroke-width="1.3" fill="none"/>
<path d="M658.16 343.77V365.92M653.41 343.77h9.5M653.41 365.92h9.5" stroke="#111" stroke-width="1.3" fill="none"/>
<path d="M672.52 344.33V352.63M667.77 344.33h9.5M667.77 352.63h9.5" stroke="#111" stroke-width="1.3" fill="none"/>
<path d="M686.88 344.05V354.02M682.13 344.05h9.5M682.13 354.02h9.5" stroke="#111" stroke-width="1.3" fill="none"/>
<path d="M701.24 343.22V355.95M696.49 343.22h9.5M696.49 355.95h9.5" stroke="#111" stroke-width="1.3" fill="none"/>
<path d="M500.20 251.60C501.54 251.88 511.88 252.35 514.56 254.64C517.24 256.94 526.24 272.00 528.92 276.24C531.60 280.47 540.60 297.04 543.28 300.04C545.96 303.04 554.96 306.56 557.64 308.34C560.32 310.13 569.32 317.07 572.00 319.14C574.68 321.21 583.68 329.04 586.36 330.49C589.04 331.93 598.04 333.35 600.72 334.64C603.40 335.93 612.40 342.88 615.08 344.33C617.76 345.77 626.76 349.31 629.44 350.14C632.12 350.97 641.12 352.75 643.80 353.19C646.48 353.62 655.48 355.29 658.16 354.85C660.84 354.41 669.84 349.02 672.52 348.48C675.20 347.94 684.20 348.93 686.88 349.03C689.56 349.14 699.90 349.54 701.24 349.59" fill="none" stroke="#111" stroke-width="2.1"/>
<circle cx="500.20" cy="251.60" r="3.95" fill="none" stroke="#111" stroke-width="1.4"/>
<circle cx="514.56" cy="254.64" r="3.95" fill="none" stroke="#111" stroke-width="1.4"/>
<circle cx="528.92" cy="276.24" r="3.95" fill="none" stroke="#111" stroke-width="1.4"/>
<circle cx="543.28" cy="300.04" r="3.95" fill="none" stroke="#111" stroke-width="1.4"/>
<circle cx="557.64" cy="308.34" r="3.95" fill="none" stroke="#111" stroke-width="1.4"/>
<circle cx="572.00" cy="319.14" r="3.95" fill="none" stroke="#111" stroke-width="1.4"/>
<circle cx="586.36" cy="330.49" r="3.95" fill="none" stroke="#111" stroke-width="1.4"/>
<circle cx="600.72" cy="334.64" r="3.95" fill="none" stroke="#111" stroke-width="1.4"/>
<circle cx="615.08" cy="344.33" r="3.95" fill="none" stroke="#111" stroke-width="1.4"/>
<circle cx="629.44" cy="350.14" r="3.95" fill="none" stroke="#111" stroke-width="1.4"/>
<circle cx="643.80" cy="353.19" r="3.95" fill="none" stroke="#111" stroke-width="1.4"/>
<circle cx="658.16" cy="354.85" r="3.95" fill="none" stroke="#111" stroke-width="1.4"/>
<circle cx="672.52" cy="348.48" r="3.95" fill="none" stroke="#111" stroke-width="1.4"/>
<circle cx="686.88" cy="349.03" r="3.95" fill="none" stroke="#111" stroke-width="1.4"/>
<circle cx="701.24" cy="349.59" r="3.95" fill="none" stroke="#111" stroke-width="1.4"/>
<path d="M256.9 451.4H298.2" stroke="#111" stroke-width="3.2" fill="none"/>
<rect x="272.1" y="446.30" width="9" height="10.2" fill="none" stroke="#111" stroke-width="2"/>
<text x="303.8 311.3 332.0 345.8 354.8 365.1 375.61 386.62 397.13" y="456.5" font-size="18" fill="#222">rWSN n=10</text>
<path d="M256.9 474.2H298.2" stroke="#111" stroke-width="3.2" fill="none"/>
<circle cx="276.9" cy="474.2" r="4.0" fill="none" stroke="#111" stroke-width="2"/>
<text x="303.8 311.3 332.0 345.8 354.8 367.35 387.05 396.05 405.1 420.9 432.6 444.1 453.1 461.5 472.01 483.02 493.53" y="479.4" font-size="18" fill="#222">rWSN M2 R54F n=15</text>
<path d="M256.9 497.3H298.2" stroke="#111" stroke-width="3.2" fill="none"/>
<path d="M271.60 492.00H283.40L277.5 503.30Z" fill="none" stroke="#111" stroke-width="2" stroke-linejoin="miter"/>
<text x="303.8 311.3 332.0 345.8 354.8 367.35 387.05 396.05 405.9 417.6 429.6 435.2 449.9 464.85 479.9 488.9 497.7 508.21 519.22 529.73" y="502.3" font-size="18" fill="#222">rWSN M2 delCRAC n=15</text>
</svg>
</body>
</html>
